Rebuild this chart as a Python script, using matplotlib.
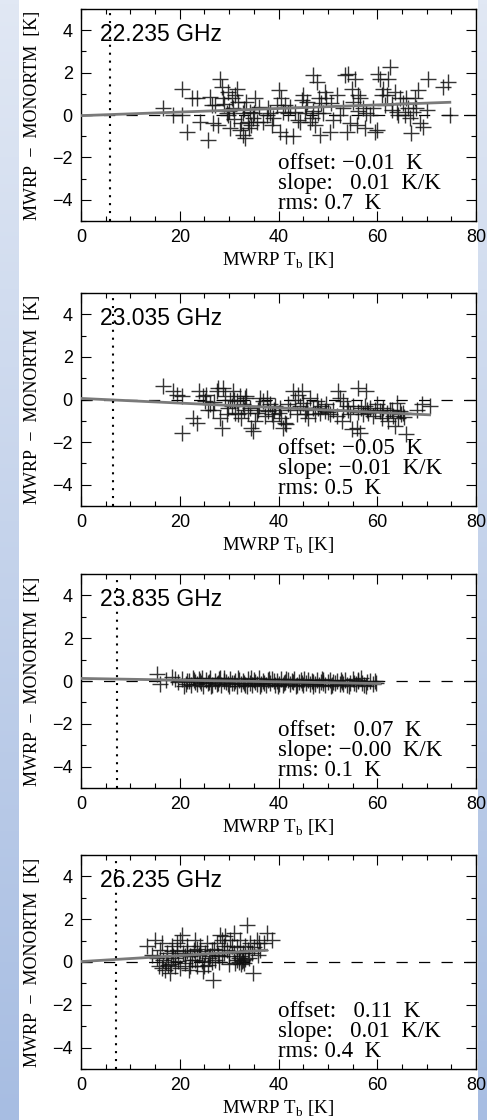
import numpy as np
import matplotlib.pyplot as plt
from matplotlib.colors import LinearSegmentedColormap
from matplotlib.ticker import MultipleLocator

plt.rcParams['mathtext.fontset'] = 'custom'
plt.rcParams['mathtext.rm'] = 'Liberation Serif'

# ---- data ----
freqs = ["22.235 GHz", "23.035 GHz", "23.835 GHz", "26.235 GHz"]
stats = [["offset: \u22120.01  K", "slope:   0.01  K/K", "rms: 0.7  K"],
         ["offset: \u22120.05  K", "slope: \u22120.01  K/K", "rms: 0.5  K"],
         ["offset:   0.07  K", "slope: \u22120.00  K/K", "rms: 0.1  K"],
         ["offset:   0.11  K", "slope:   0.01  K/K", "rms: 0.4  K"]]
dotted_x = [5.9, 6.4, 7.3, 7.0]
fit_x = [[0, 74.7], [0, 70.6], [0, 60.5], [0, 37.6]]
fit_y = [[-0.03, 0.6], [0.05, -0.72], [0.12, -0.12], [0.02, 0.55]]

pts1 = [(16.7, 0.31), (18.7, 0.0), (20.4, 1.25), (20.4, 0.0), (21.4, -0.78), (22.4, 0.78), (23.4, 0.78),
        (24.1, -0.31), (25.8, -1.17), (26.1, 0.86), (26.5, 0.47), (26.8, -0.39), (27.1, 0.47), (27.8, -0.47),
        (28.1, 1.71), (28.5, 1.32), (28.8, 0.78), (29.5, 0.08), (29.8, 0.0), (29.8, 1.09), (30.2, -0.62),
        (30.5, 0.78), (30.8, 0.31), (31.2, 0.93), (31.5, 1.25), (31.8, 0.62), (32.2, -0.70), (32.5, -0.39),
        (32.9, 0.08), (32.9, -0.93), (33.2, -1.09), (33.5, 0.62), (33.9, -0.31), (34.2, 0.16), (34.5, -0.47),
        (34.9, -0.16), (35.2, 0.78), (35.6, -0.31), (36.9, -0.31), (37.6, 0.0), (37.9, 0.31), (38.3, 0.08),
        (38.6, -0.47), (38.9, -0.16), (39.6, 0.47), (40.0, 1.17), (40.3, -0.78), (40.6, 0.78), (41.0, 0.16),
        (41.3, 0.47), (41.6, -1.01), (42.0, 0.08), (42.3, 0.39), (43.0, -1.01), (43.3, 0.16), (44.0, -0.23),
        (44.3, -0.31), (44.7, 0.70), (45.0, 0.93), (45.3, 0.08), (45.7, 0.62), (46.4, -0.31), (46.7, -0.16),
        (47.0, 1.87), (47.4, -0.47), (47.7, 1.56), (48.0, 0.08), (48.2, 0.78), (48.4, -0.93), (48.7, 0.55),
        (49.1, 0.08), (49.4, 1.09), (49.7, 0.78), (50.4, -0.78), (50.7, 0.55), (51.1, -0.23), (51.8, 0.93),
        (52.4, 0.0), (53.1, 0.31), (53.4, 1.87), (53.8, -0.78), (54.1, 1.95), (54.5, -0.39), (54.8, 1.25),
        (55.1, 0.62), (55.5, 1.71), (55.8, -0.47), (56.1, 0.93), (56.5, 0.78), (57.2, 0.31), (57.5, -0.62),
        (57.8, 0.08), (58.5, 0.0), (59.2, 0.31), (59.5, -0.78), (59.9, -0.70), (60.2, 1.95), (60.5, 1.71),
        (60.9, 0.93), (61.2, 1.25), (61.5, 0.47), (61.9, 0.93), (62.2, 1.71), (62.6, 2.26), (62.9, 0.23),
        (63.6, 1.09), (63.9, 0.16), (64.2, 0.0), (64.6, 0.78), (65.2, 0.55), (65.6, 0.0), (65.9, 0.78),
        (66.3, 0.31), (66.6, -0.16), (66.9, -0.86), (67.3, 0.16), (67.6, 0.78), (67.9, 0.31), (68.3, 1.17),
        (68.6, -0.39), (69.3, -0.55), (70.0, 0.23), (70.3, 1.71), (73.3, 1.32), (74.4, 1.56), (74.7, 0.0),
        (30.0, 0.2), (31.0, -0.2), (33.0, 0.3), (34.0, -0.6), (35.0, 0.1), (36.0, 0.4), (29.0, 0.5),
        (45.5, 0.4), (47.0, 0.2), (56.0, 0.2), (63.0, 0.5)]

pts2 = [(16.7, 0.62), (18.7, 0.39), (19.4, 0.23), (20.4, 0.16), (20.4, -1.56), (22.7, -0.86), (23.4, -1.09),
        (23.8, 0.39), (24.8, 0.16), (25.1, -0.08), (25.4, 0.23), (25.8, -0.47), (26.1, -0.23), (26.8, -0.47),
        (27.5, 0.39), (27.8, 0.54), (28.1, -0.86), (28.5, -1.32), (28.8, 0.54), (29.1, 0.16), (29.5, -0.70),
        (30.2, 0.0), (30.5, -0.31), (30.8, 0.39), (31.2, -0.62), (31.5, -0.08), (31.8, -0.70), (32.2, 0.16),
        (32.5, -0.86), (32.9, -0.23), (33.2, 0.08), (33.5, 0.16), (33.9, -0.62), (34.2, -0.39), (34.5, -1.32),
        (34.9, -1.48), (35.2, -1.01), (35.6, -0.62), (35.9, -0.47), (36.2, 0.08), (36.9, -0.08), (37.2, -0.78),
        (37.6, 0.08), (37.9, -0.54), (38.3, -0.23), (38.6, -0.70), (38.9, -1.01), (39.3, -0.31), (40.0, -0.62),
        (40.3, -0.39), (40.6, -0.86), (41.0, -1.32), (41.3, -1.09), (41.6, -1.17), (42.3, -0.47), (43.0, 0.39),
        (43.3, 0.0), (43.7, -0.70), (44.0, 0.23), (44.3, -0.31), (44.7, 0.39), (45.0, -0.16), (45.3, -0.70),
        (45.7, -0.39), (46.0, -0.86), (46.4, 0.08), (47.0, -0.39), (47.4, -0.70), (47.7, -0.08), (48.4, -0.62),
        (48.7, -0.31), (49.4, -0.54), (49.7, -0.23), (50.4, -0.70), (51.1, -0.47), (51.8, -0.78), (52.1, 0.39),
        (52.4, 0.08), (52.8, -1.01), (53.1, -0.08), (53.8, -0.31), (54.1, -0.47), (54.5, -0.70), (54.8, -1.40),
        (55.1, -0.31), (55.8, -1.32), (56.1, 0.54), (56.5, -1.56), (56.8, -0.39), (57.2, -0.70), (57.5, -0.31),
        (57.8, 0.39), (58.2, -0.62), (58.5, -0.39), (59.2, -0.78), (59.5, -0.47), (59.9, -0.23), (60.5, -0.54),
        (60.9, -0.86), (61.2, -0.39), (61.9, -0.62), (62.2, -1.01), (62.6, -0.47), (63.2, -0.78), (63.6, -1.25),
        (63.9, -0.16), (64.2, -0.86), (64.6, -0.54), (64.9, -0.70), (65.2, -0.62), (65.9, -1.63), (68.0, -0.47),
        (69.0, -0.23), (70.6, -0.31),
        (27.0, -0.1), (29.8, -0.4), (31.0, 0.0), (33.0, -0.5), (36.0, -0.3), (39.0, -0.5), (42.0, -0.2),
        (45.5, -0.5), (48.0, -0.4), (50.0, -0.6), (53.0, -0.5), (56.0, -0.6), (58.0, -0.5), (61.0, -0.6),
        (63.0, -0.5), (65.5, -0.8)]

pts3 = [(15.3, 0.35), (16.0, -0.14), (17.2, 0.05), (18.4, 0.2), (19.0, 0.08), (19.6, -0.05), (20.5, 0.1),
        (21.2, -0.12), (21.8, 0.02), (22.3, -0.2), (22.9, 0.05), (23.4, -0.15), (23.9, 0.1), (24.4, -0.08),
        (24.8, -0.22), (25.3, 0.06), (25.7, -0.1), (26.2, 0.12), (26.6, -0.18), (27.1, 0.0), (27.5, -0.12),
        (28.0, 0.08), (28.4, -0.2), (28.9, 0.15), (29.3, -0.05), (29.8, -0.16), (30.2, 0.1), (30.6, -0.1),
        (31.1, 0.02), (31.5, -0.22), (32.0, 0.07), (32.4, -0.13), (32.9, 0.0), (33.3, -0.18), (33.8, 0.1),
        (34.2, -0.08), (34.7, -0.2), (35.1, 0.04), (35.6, -0.12), (36.0, 0.12), (36.5, -0.15), (36.9, -0.02),
        (37.4, -0.2), (37.8, 0.06), (38.3, -0.1), (38.7, 0.08), (39.2, -0.17), (39.6, 0.0), (40.1, -0.12),
        (40.5, 0.1), (41.0, -0.2), (41.4, -0.04), (41.9, 0.05), (42.3, -0.15), (42.8, -0.02), (43.2, 0.08),
        (43.7, -0.18), (44.1, -0.05), (44.6, 0.06), (45.0, -0.2), (45.5, -0.08), (45.9, 0.04), (46.4, -0.16),
        (46.8, 0.02), (47.3, -0.12), (47.7, 0.07), (48.2, -0.2), (48.6, -0.06), (49.1, 0.03), (49.5, -0.17),
        (50.0, -0.05), (50.5, 0.05), (50.9, -0.2), (51.4, -0.1), (51.9, 0.02), (52.4, -0.16), (52.9, -0.04),
        (53.4, 0.06), (53.9, -0.2), (54.5, -0.08), (55.0, 0.1), (55.6, -0.15), (56.2, -0.02), (56.8, 0.12),
        (57.4, -0.18), (58.0, -0.05), (58.6, 0.0), (59.2, -0.14), (59.7, -0.08),
        (21.5, 0.0), (23.0, -0.05), (24.0, 0.0), (26.0, -0.05), (27.8, -0.1), (29.0, 0.0), (31.0, -0.08),
        (33.0, -0.1), (35.3, -0.05), (37.0, -0.08), (39.0, -0.02), (41.2, -0.1), (43.0, -0.06), (44.8, -0.1),
        (47.0, -0.05), (49.0, -0.1), (51.0, -0.06), (53.0, -0.12), (55.3, -0.08), (57.0, -0.1),
        (20.8, -0.25), (22.6, 0.15), (24.6, 0.12), (26.4, -0.25), (28.2, 0.12), (30.0, -0.25), (31.8, 0.14),
        (33.6, -0.25), (34.5, 0.12), (36.2, -0.24), (38.0, 0.1), (39.8, -0.25), (41.6, 0.1), (43.5, -0.25),
        (45.2, 0.08), (47.0, -0.24), (48.8, 0.08), (50.7, -0.25), (52.6, 0.06), (54.2, -0.25), (56.0, 0.05),
        (57.8, -0.24), (59.5, 0.02)]

pts4 = [(13.3, 0.73), (14.3, 0.34), (15.0, 1.05), (15.3, 0.19), (15.7, -0.20), (16.0, 0.58), (16.4, 0.89),
        (16.7, 0.11), (17.0, -0.36), (17.4, 0.42), (17.7, -0.12), (18.0, -0.51), (18.4, 0.73), (18.7, 0.27),
        (19.1, -0.20), (19.4, 0.58), (19.7, 0.03), (20.1, 1.05), (20.4, 1.28), (20.7, 0.42), (21.1, -0.05),
        (21.4, 0.73), (21.8, -0.36), (22.1, 0.27), (22.4, 0.11), (22.8, 0.58), (23.1, 1.05), (23.4, -0.20),
        (23.8, 0.34), (24.1, 0.73), (24.5, 0.03), (24.8, -0.44), (25.1, 0.42), (25.5, 0.89), (25.8, -0.12),
        (26.1, 0.27), (26.5, 0.58), (26.8, -0.83), (27.2, 0.11), (27.5, 0.89), (27.8, 0.34), (28.2, 1.28),
        (28.5, 1.05), (28.9, 0.73), (29.2, 1.20), (29.5, 0.58), (29.9, 0.27), (30.2, 1.05), (30.5, 0.73),
        (30.9, 0.42), (31.2, -0.05), (31.6, 0.11), (31.9, 0.19), (32.2, 0.27), (32.6, 0.03), (32.9, 0.42),
        (33.2, 0.73), (33.6, 1.75), (33.9, 0.58), (34.3, 0.89), (34.6, 0.42), (34.9, -0.51), (35.6, 1.05),
        (35.9, 0.34), (36.3, 0.58), (37.0, 0.89), (37.6, 1.36), (38.6, 1.05), (32.2, 1.05), (30.9, 1.36),
        (16.5, -0.3), (17.2, 0.0), (18.2, -0.1), (19.0, 0.2), (20.0, -0.3), (21.0, 0.3), (22.0, -0.2),
        (23.0, 0.1), (24.0, 0.5), (25.0, -0.2), (26.0, 0.2), (27.0, 0.6), (28.0, 0.0), (29.0, 0.4),
        (30.0, -0.1), (31.5, 0.7), (32.5, -0.1), (32.8, 0.1), (33.0, -0.05), (33.3, 0.15), (32.0, 0.0),
        (34.0, 0.2), (35.0, 0.7), (36.0, 0.9), (18.5, 0.5), (19.5, 0.9), (21.5, 0.5), (23.5, 0.6),
        (26.5, 0.0), (28.5, 0.3)]

points = [pts1, pts2, pts3, pts4]

# axes boxes in figure pixels (487 x 1120)
W, H = 487.0, 1120.0
boxes = [(9, 221), (293, 506), (574, 788), (855, 1069)]

fig = plt.figure(figsize=(W / 100, H / 100), dpi=100)

# light blue side strips of the slide
grad = np.linspace(0, 1, 256).reshape(-1, 1)
cmap = LinearSegmentedColormap.from_list('bg', ['#e1e8f4', '#a7bde2'])
for rect in ([0, 0, 19 / W, 1], [478 / W, 0, 9 / W, 1]):
    sax = fig.add_axes(rect, zorder=0)
    sax.imshow(grad, aspect='auto', cmap=cmap)
    sax.axis('off')

serif = 'Liberation Serif'
sans = 'Liberation Sans'

for i, (top, bot) in enumerate(boxes):
    ax = fig.add_axes([81 / W, 1 - bot / H, (476 - 81) / W, (bot - top) / H], zorder=1)
    px = [p[0] for p in points[i]]
    py = [p[1] for p in points[i]]
    ax.axhline(0, color='k', lw=0.9, ls=(0, (9, 9)), zorder=1)
    ax.plot(px, py, '+', ms=11, mew=1.0, color='#111111', alpha=0.85, zorder=2)
    ax.plot(fit_x[i], fit_y[i], color='#7a7a7a', lw=2.0, zorder=3)
    ax.axvline(dotted_x[i], color='k', lw=1.5, ls=(0, (1, 2.8)), zorder=3)

    ax.set_xlim(0, 80)
    ax.set_ylim(-5, 5)
    ax.xaxis.set_major_locator(MultipleLocator(20))
    ax.xaxis.set_minor_locator(MultipleLocator(5))
    ax.yaxis.set_major_locator(MultipleLocator(2))
    ax.yaxis.set_minor_locator(MultipleLocator(1))
    ax.tick_params(which='both', direction='in', top=True, right=True, width=0.8)
    ax.tick_params(which='major', length=7, pad=6, labelsize=13)
    ax.tick_params(which='minor', length=3.5)
    for lab in ax.get_xticklabels() + ax.get_yticklabels():
        lab.set_fontfamily(sans)
    for s in ax.spines.values():
        s.set_linewidth(1.0)

    ax.set_xlabel(r'MWRP T$_\mathrm{b}$ [K]', family=serif, fontsize=13.5, labelpad=3)
    ax.set_ylabel('MWRP  \u2212  MONORTM  [K]', family=serif, fontsize=13, labelpad=8)

    ax.text(3.8, 3.8, freqs[i], family=sans, fontsize=16.5, va='center', ha='left', zorder=5)
    for k, line in enumerate(stats[i]):
        ax.text(39.9, -2.3 - 0.93 * k, line, family=serif, fontsize=16.5,
                va='center', ha='left', zorder=5)

fig.savefig('out.png', dpi=100)
